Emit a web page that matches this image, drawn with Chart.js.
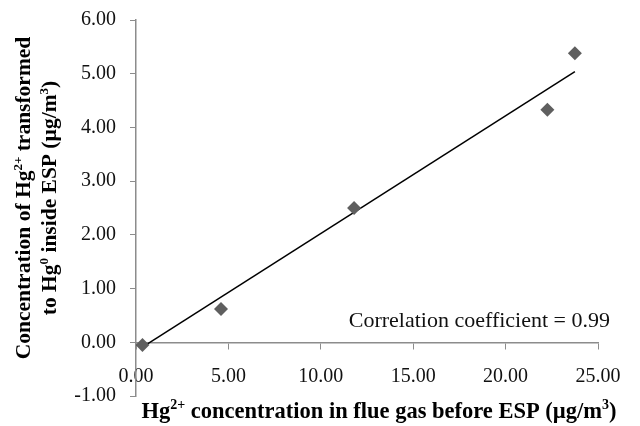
<!DOCTYPE html>
<html>
<head>
<meta charset="utf-8">
<script src="https://cdn.jsdelivr.net/npm/chart.js@4/dist/chart.umd.min.js"></script>
<style>
  html, body { margin: 0; padding: 0; background: #fff; }
  #wrap { width: 640px; height: 426px; }
</style>
</head>
<body>
<div id="wrap"><canvas id="scatterChart" width="640" height="426"></canvas></div>
<script>
// values
const hgBefore = [0.35, 4.6, 11.8, 22.26, 23.75];     // Hg2+ before ESP
const hgTransformed = [-0.05, 0.62, 2.5, 4.33, 5.38]; // Hg2+ -> Hg0 inside ESP
const trendX = [0.35, 23.75];
const trendY = [-0.09, 5.04];
const corrLabel = 'Correlation coefficient = 0.99';

const pts = hgBefore.map((x, i) => ({ x: x, y: hgTransformed[i] }));
const trend = trendX.map((x, i) => ({ x: x, y: trendY[i] }));

const serif = '"Liberation Serif", "Times New Roman", serif';

// draws text with superscript parts, centred on x
function drawRich(c, segs, x, y, size, weight) {
  const supSize = Math.round(size * 0.62);
  let total = 0;
  segs.forEach(s => {
    c.font = weight + ' ' + (s.sup ? supSize : size) + 'px ' + serif;
    s.w = c.measureText(s.t).width;
    total += s.w;
  });
  let cx = x - total / 2;
  c.textAlign = 'left';
  c.textBaseline = 'alphabetic';
  segs.forEach(s => {
    c.font = weight + ' ' + (s.sup ? supSize : size) + 'px ' + serif;
    c.fillText(s.t, cx, s.sup ? y - size * 0.38 : y);
    cx += s.w;
  });
}

const labelsPlugin = {
  id: 'labels',
  afterDraw(chart) {
    const c = chart.ctx;
    c.save();
    c.fillStyle = '#000';
    // x title
    drawRich(c, [
      { t: 'Hg' }, { t: '2+', sup: true },
      { t: ' concentration in flue gas before ESP (\u00b5g/m' }, { t: '3', sup: true }, { t: ')' }
    ], 379, 418, 22.5, 'bold');
    // y title, two lines
    c.save();
    c.translate(30, 198);
    c.rotate(-Math.PI / 2);
    drawRich(c, [
      { t: 'Concentration of Hg' }, { t: '2+', sup: true }, { t: ' transformed' }
    ], 0, 0, 21.5, 'bold');
    drawRich(c, [
      { t: 'to Hg' }, { t: '0', sup: true }, { t: ' inside ESP (\u00b5g/m' }, { t: '3', sup: true }, { t: ')' }
    ], 0, 26, 21.5, 'bold');
    c.restore();
    // correlation note
    c.font = '22px ' + serif;
    c.textAlign = 'right';
    c.textBaseline = 'middle';
    c.fillStyle = '#111';
    c.fillText(corrLabel, 610, 321);
    c.restore();
  }
};

const ctx = document.getElementById('scatterChart');
new Chart(ctx, {
  type: 'scatter',
  data: {
    datasets: [
      {
        label: 'Measured',
        data: pts,
        pointStyle: 'rectRot',
        pointRadius: 7,
        pointHoverRadius: 7,
        backgroundColor: '#5f5f5f',
        borderColor: '#5f5f5f',
        borderWidth: 0
      },
      {
        label: 'Linear fit',
        type: 'line',
        data: trend,
        showLine: true,
        borderColor: '#000',
        borderWidth: 1.5,
        pointRadius: 0,
        fill: false
      }
    ]
  },
  options: {
    responsive: false,
    animation: false,
    layout: { padding: { left: 0, right: 42, top: 20, bottom: 30 } },
    plugins: {
      legend: { display: false },
      tooltip: { enabled: false }
    },
    scales: {
      x: {
        type: 'linear',
        position: { y: 0 },
        min: 0,
        max: 25,
        ticks: {
          stepSize: 5,
          padding: 16,
          color: '#111',
          font: { family: serif, size: 20 },
          callback: v => v.toFixed(2)
        },
        grid: { display: true, drawOnChartArea: false, tickLength: 6, color: '#8c8c8c' },
        border: { color: '#8c8c8c', width: 1.5 }
      },
      y: {
        type: 'linear',
        position: 'left',
        min: -1,
        max: 6,
        afterFit: s => {
          s.width = 136;
          s.paddingTop = 0;
          s.paddingBottom = 0;
        },
        ticks: {
          stepSize: 1,
          padding: 14,
          color: '#111',
          font: { family: serif, size: 20 },
          callback: v => v.toFixed(2)
        },
        grid: { display: true, drawOnChartArea: false, tickLength: 6, color: '#8c8c8c' },
        border: { color: '#8c8c8c', width: 1.5 }
      }
    }
  },
  plugins: [labelsPlugin]
});
</script>
</body>
</html>
